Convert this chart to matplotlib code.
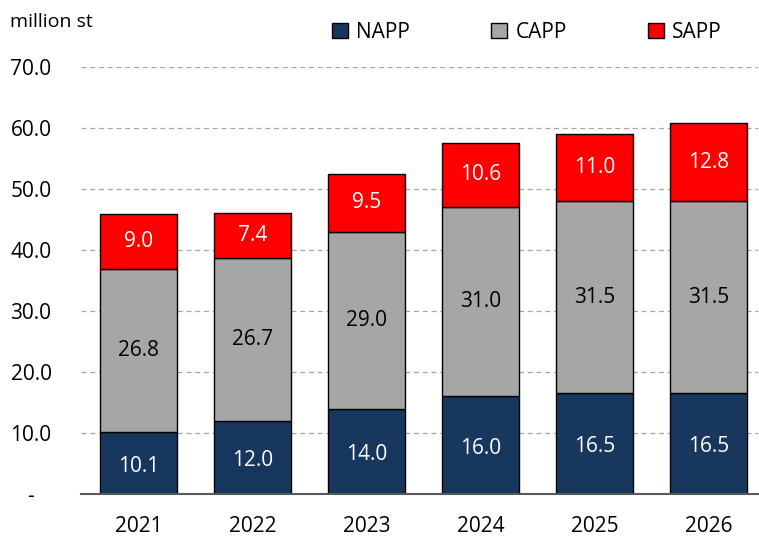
import matplotlib
matplotlib.use("Agg")
import matplotlib.pyplot as plt
import numpy as np

years = ["2021", "2022", "2023", "2024", "2025", "2026"]
napp = [10.1, 12.0, 14.0, 16.0, 16.5, 16.5]
capp = [26.8, 26.7, 29.0, 31.0, 31.5, 31.5]
sapp = [9.0, 7.4, 9.5, 10.6, 11.0, 12.8]
yticks = [0, 10, 20, 30, 40, 50, 60, 70]
ytick_labels = ["-", "10.0", "20.0", "30.0", "40.0", "50.0", "60.0", "70.0"]

plt.rcParams['font.family'] = ['Open Sans', 'DejaVu Sans']

fig = plt.figure(figsize=(7.59, 5.36), dpi=100)
ax = fig.add_axes([81/759, 1 - 494/536, (758 - 81)/759, (494 - 67)/536])

x = np.arange(len(years))
w = 0.675
c_n, c_c, c_s = "#17375E", "#A6A6A6", "#FF0000"
b1 = ax.bar(x, napp, w, color=c_n, edgecolor="black", linewidth=1, label="NAPP", zorder=3)
b2 = ax.bar(x, capp, w, bottom=napp, color=c_c, edgecolor="black", linewidth=1, label="CAPP", zorder=3)
bot = np.array(napp) + np.array(capp)
b3 = ax.bar(x, sapp, w, bottom=bot, color=c_s, edgecolor="black", linewidth=1, label="SAPP", zorder=3)

fs = 15
for i in range(len(years)):
    ax.text(x[i], napp[i] / 2 - 0.5, f"{napp[i]:.1f}", ha="center", va="center", color="white", fontsize=fs, zorder=4)
    ax.text(x[i], napp[i] + capp[i] / 2, f"{capp[i]:.1f}", ha="center", va="center", color="black", fontsize=fs, zorder=4)
    ax.text(x[i], bot[i] + sapp[i] / 2, f"{sapp[i]:.1f}", ha="center", va="center", color="white", fontsize=fs, zorder=4)

ax.set_xlim(-0.505, 5.43)
ax.set_ylim(0, 70)
ax.set_yticks(yticks)
ax.set_yticklabels(ytick_labels, fontsize=fs)
for lab in ax.get_yticklabels():
    lab.set_horizontalalignment("center")
ax.set_xticks(x)
ax.set_xticklabels(years, fontsize=fs)
ax.tick_params(axis="both", length=0)
ax.tick_params(axis="y", pad=36)
ax.tick_params(axis="x", pad=16)
ax.grid(axis="y", color="#A6A6A6", linestyle=(0, (4, 3)), linewidth=0.9, zorder=0)
for s in ["left", "right", "top"]:
    ax.spines[s].set_visible(False)
ax.spines["bottom"].set_color("#595959")
ax.spines["bottom"].set_linewidth(1.5)
ax.spines["bottom"].set_zorder(5)

fig.text(10/759, 1 - 22/536, "million st", fontsize=14, ha="left", va="center")

leg = fig.legend(handles=[b1, b2, b3], loc="center", bbox_to_anchor=(527/759, 1 - 32/536),
                 ncol=3, frameon=False, fontsize=fs, handlelength=0.75, handleheight=0.75,
                 columnspacing=3.9, handletextpad=0.4)

fig.savefig("out.png", dpi=100)
